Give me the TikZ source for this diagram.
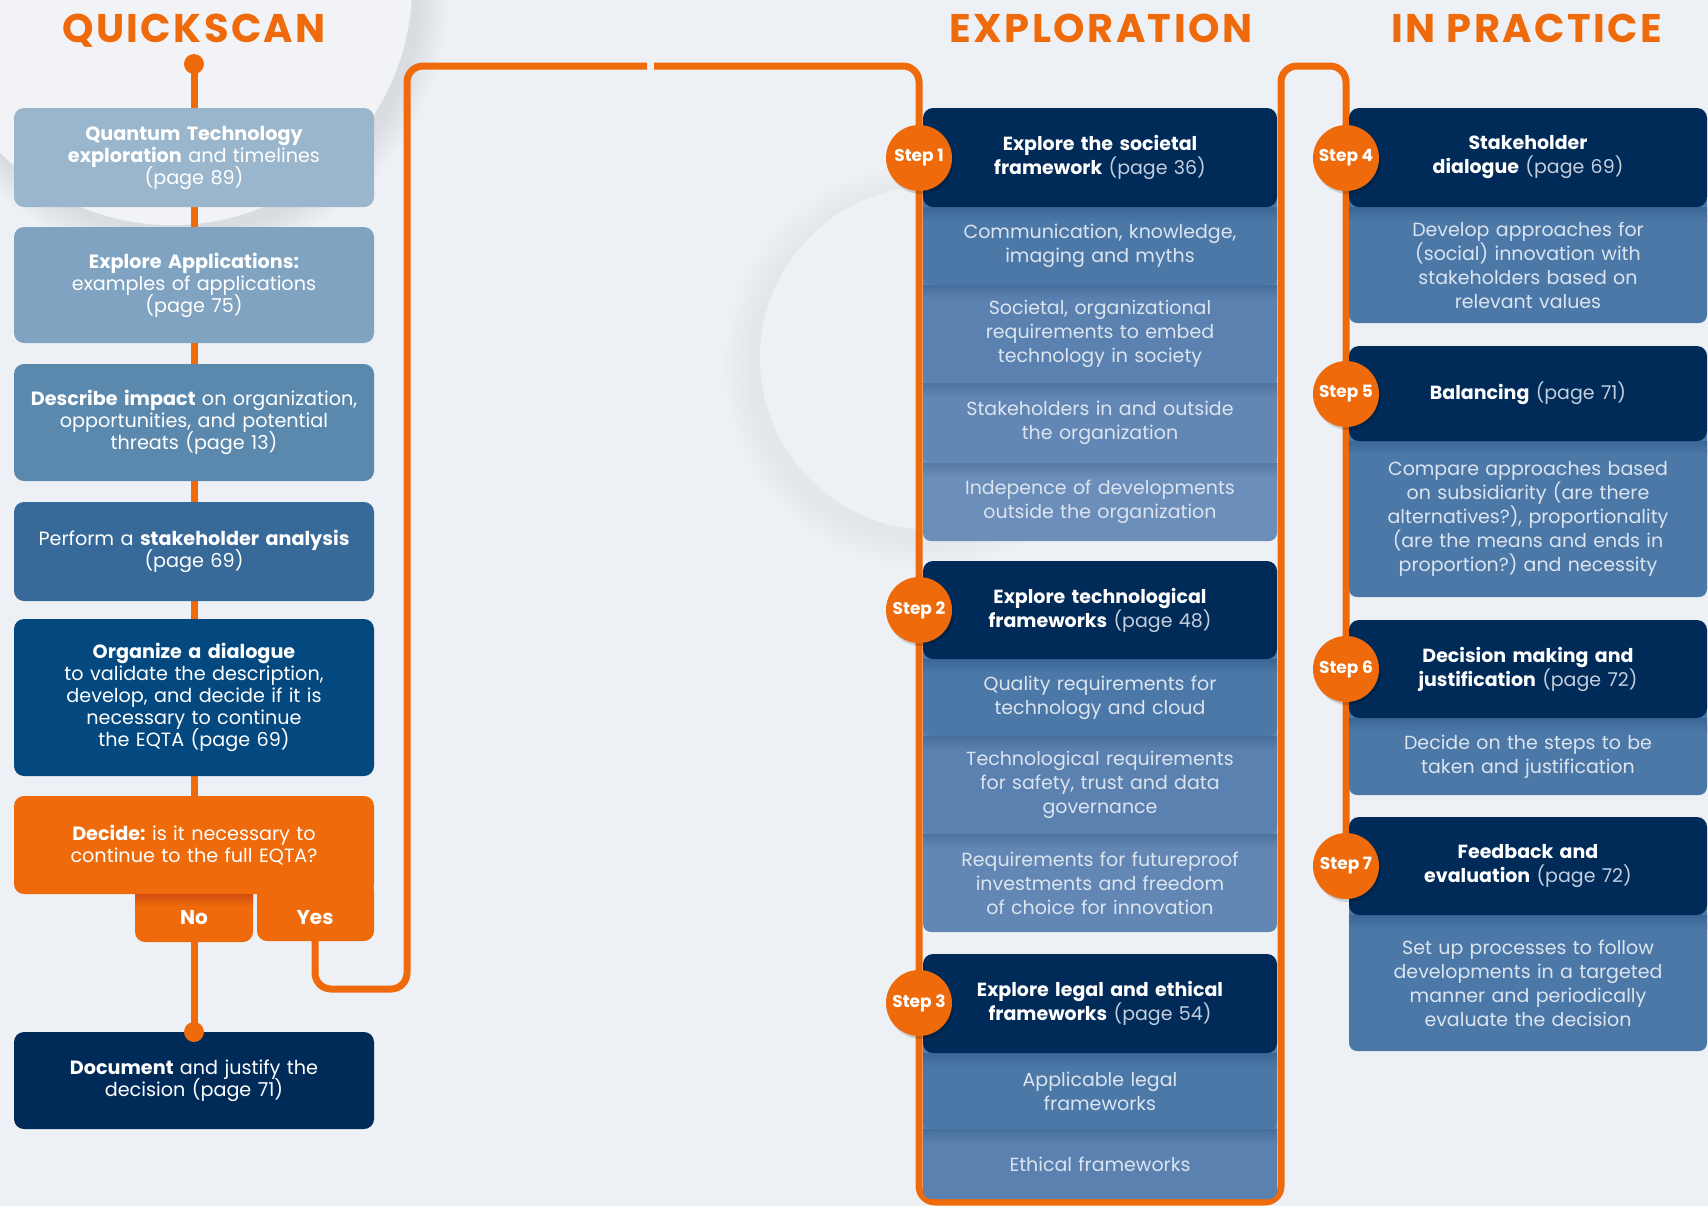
\documentclass[tikz,border=0pt]{standalone}
\usepackage{fontspec}
\setmainfont{Poppins}
\usetikzlibrary{calc}
\pgfdeclarelayer{bg}
\pgfdeclarelayer{lines}
\pgfsetlayers{bg,lines,main}
\frenchspacing
\newcommand{\tightlines}{\lineskiplimit=-30pt\relax\lineskip=0pt\relax}
\definecolor{bgc}{HTML}{EDF1F6}
\definecolor{bgl}{HTML}{F1F3F7}
\definecolor{org}{HTML}{EE6A0B}
\definecolor{orgd}{HTML}{CF4D12}
\definecolor{navy}{HTML}{002A58}
\definecolor{qa}{HTML}{9AB6CC}
\definecolor{qb}{HTML}{7FA3C1}
\definecolor{qc}{HTML}{5B88AD}
\definecolor{qd}{HTML}{376A98}
\definecolor{qe}{HTML}{03487F}
\definecolor{sa}{HTML}{4C78A8}
\definecolor{sb}{HTML}{5A81AF}
\definecolor{sc}{HTML}{6387B4}
\definecolor{sd}{HTML}{6C8EBA}
\definecolor{stext}{HTML}{DCE4EF}
\definecolor{ptext}{HTML}{C4CFDE}
\begin{document}
\begin{tikzpicture}[x=0.5pt, y=-0.5pt,
  oline/.style={draw=org, line width=3.5pt, rounded corners=8pt},
  qbox/.style={rectangle, rounded corners=5pt, minimum width=180pt, text width=174pt, align=center, text=white, font=\fontsize{9.6}{11}\selectfont, inner sep=0pt, execute at begin node=\tightlines},
  hbox/.style={rectangle, rounded corners=5pt, fill=navy, minimum width=177pt, text width=172pt, align=center, text=white, font=\fontsize{9.5}{12}\selectfont, inner sep=0pt, execute at begin node=\tightlines},
  sbox/.style={rectangle, rounded corners=4pt, minimum width=177pt, text width=172pt, align=center, text=stext, font=\fontsize{9.5}{12}\selectfont, inner sep=0pt, execute at begin node=\tightlines},
  pwide/.style={minimum width=179pt},
  stepc/.style={circle, fill=org, minimum size=33pt, inner sep=0pt, text=white, font=\bfseries\fontsize{8.5}{9}\selectfont,
     preaction={fill=black, opacity=0.15, transform canvas={shift={(1pt,-1.5pt)}}}},
  dotc/.style={circle, fill=org, minimum size=10pt, inner sep=0pt},
  ttl/.style={text=org, anchor=base, inner sep=0pt, font=\bfseries\fontsize{20}{20}\selectfont\addfontfeatures{LetterSpace=6}},
  tab/.style={text=white, inner sep=0pt, font=\bfseries\fontsize{10}{11}\selectfont}
]
\useasboundingbox (0,0) rectangle (1708,1206);
\begin{pgfonlayer}{bg}
  \fill[bgc] (0,0) rectangle (1708,1206);
  \begin{scope}
    \clip (0,0) rectangle (1708,1206);
    \foreach \d in {1,...,10} {\fill[black, opacity=0.006] (178,-8) circle[radius=120pt+\d*1.5pt];}
    \fill[bgl] (172,-15) circle[radius=120pt];
    \foreach \d in {1,...,10} {\fill[black, opacity=0.005] (925,366) circle[radius=86pt+\d*1.5pt];}
    \fill[bgc] (932,358) circle[radius=86pt];
  \end{scope}
\end{pgfonlayer}

% titles
\node[ttl] (tq) at (194,42) {QUICKSCAN};
\node[ttl] (te) at (1101,42) {EXPLORATION};
\node[ttl] (tp) at (1527,42) {IN PRACTICE};

% ---------- quickscan column
\node[qbox, fill=qa, minimum height=49.5pt] (q1) at (194,157.5) {\textbf{Quantum Technology}\\\textbf{exploration} and timelines\\(page 89)};
\node[qbox, fill=qb, minimum height=58pt] (q2) at (194,285) {\textbf{Explore Applications:}\\examples of applications\\(page 75)};
\node[qbox, fill=qc, minimum height=58.5pt] (q3) at (194,422.5) {\textbf{Describe impact} on organization,\\opportunities, and potential\\threats (page 13)};
\node[qbox, fill=qd, minimum height=49.5pt] (q4) at (194,551.5) {Perform a \textbf{stakeholder analysis}\\(page 69)};
\node[qbox, fill=qe, minimum height=78.5pt] (q5) at (194,697.5) {\textbf{Organize a dialogue}\\to validate the description,\\develop, and decide if it is\\necessary to continue\\the EQTA (page 69)};
\fill[org, rounded corners=5pt] (257,880) rectangle (374,941);
\fill[org, rounded corners=5pt] (135,880) rectangle (253,942);
\shade[top color=orgd, bottom color=org] (135,894) rectangle (253,906);
\node[qbox, fill=org, minimum height=49pt] (dec) at (194,845) {\textbf{Decide:} is it necessary to\\continue to the full EQTA?};
\node[tab] (no) at (194,918) {No};
\node[tab] (yes) at (315,918) {Yes};
\node[qbox, fill=navy, minimum height=48.5pt] (doc) at (194,1080.5) {\textbf{Document} and justify the\\decision (page 71)};
\node[dotc] (d1) at (194,64) {};
\node[dotc] (d2) at (194,1032) {};

% ---------- exploration column
% step 1 group
\fill[sd] (923,453) rectangle (1277,475);
\node[sbox, fill=sd, minimum height=39pt] (e14) at (1100,502) {Indepence of developments\\outside the organization};
\shade[top color=sd!78!navy, bottom color=sd] (923,463) rectangle (1277,477);
\fill[sc] (923,373) rectangle (1277,395);
\node[sbox, fill=sc, minimum height=40pt] (e13) at (1100,423) {Stakeholders in and outside\\the organization};
\shade[top color=sc!78!navy, bottom color=sc] (923,383) rectangle (1277,397);
\fill[sb] (923,275) rectangle (1277,297);
\node[sbox, fill=sb, minimum height=49pt] (e12) at (1100,334) {Societal, organizational\\requirements to embed\\technology in society};
\shade[top color=sb!78!navy, bottom color=sb] (923,285) rectangle (1277,299);
\fill[sa] (923,197) rectangle (1277,219);
\node[sbox, fill=sa, minimum height=39pt] (e11) at (1100,246) {Communication, knowledge,\\imaging and myths};
\shade[top color=sa!78!navy, bottom color=sa] (923,207) rectangle (1277,221);
\node[hbox, minimum height=49.5pt] (e1) at (1100,157.5) {\textbf{Explore the societal}\\\textbf{framework} {\color{ptext}(page 36)}};
% step 2 group
\fill[sc] (923,824) rectangle (1277,846);
\node[sbox, fill=sc, minimum height=49pt] (e23) at (1100,883) {Requirements for futureproof\\investments and freedom\\of choice for innovation};
\shade[top color=sc!78!navy, bottom color=sc] (923,834) rectangle (1277,848);
\fill[sb] (923,726) rectangle (1277,748);
\node[sbox, fill=sb, minimum height=49pt] (e22) at (1100,785) {Technological requirements\\for safety, trust and data\\governance};
\shade[top color=sb!78!navy, bottom color=sb] (923,736) rectangle (1277,750);
\fill[sa] (923,649) rectangle (1277,671);
\node[sbox, fill=sa, minimum height=38.5pt] (e21) at (1100,697.5) {Quality requirements for\\technology and cloud};
\shade[top color=sa!78!navy, bottom color=sa] (923,659) rectangle (1277,673);
\node[hbox, minimum height=49pt] (e2) at (1100,610) {\textbf{Explore technological}\\\textbf{frameworks} {\color{ptext}(page 48)}};
% step 3 group
\fill[sb] (923,1119) rectangle (1277,1141);
\node[sbox, fill=sb, minimum height=35pt] (e32) at (1100,1164) {Ethical frameworks};
\shade[top color=sb!78!navy, bottom color=sb] (923,1129) rectangle (1277,1143);
\fill[sa] (923,1043) rectangle (1277,1065);
\node[sbox, fill=sa, minimum height=38pt] (e31) at (1100,1091) {Applicable legal\\frameworks};
\shade[top color=sa!78!navy, bottom color=sa] (923,1053) rectangle (1277,1067);
\node[hbox, minimum height=49.5pt] (e3) at (1100,1003.5) {\textbf{Explore legal and ethical}\\\textbf{frameworks} {\color{ptext}(page 54)}};

% ---------- in practice column
\fill[sa] (1349,197) rectangle (1707,219);
\node[sbox, pwide, fill=sa, minimum height=58pt] (p41) at (1528,265) {Develop approaches for\\(social) innovation with\\stakeholders based on\\relevant values};
\shade[top color=sa!78!navy, bottom color=sa] (1349,207) rectangle (1707,221);
\node[hbox, pwide, minimum height=49.5pt] (p4) at (1528,157.5) {\textbf{Stakeholder}\\\textbf{dialogue} {\color{ptext}(page 69)}};

\fill[sa] (1349,431) rectangle (1707,453);
\node[sbox, pwide, fill=sa, minimum height=78pt] (p51) at (1528,519) {Compare approaches based\\on subsidiarity (are there\\alternatives?), proportionality\\(are the means and ends in\\proportion?) and necessity};
\shade[top color=sa!78!navy, bottom color=sa] (1349,441) rectangle (1707,455);
\node[hbox, pwide, minimum height=47.5pt] (p5) at (1528,393.5) {\textbf{Balancing} {\color{ptext}(page 71)}};

\fill[sa] (1349,708) rectangle (1707,730);
\node[sbox, pwide, fill=sa, minimum height=38.5pt] (p61) at (1528,756.5) {Decide on the steps to be\\taken and justification};
\shade[top color=sa!78!navy, bottom color=sa] (1349,718) rectangle (1707,732);
\node[hbox, pwide, minimum height=49pt] (p6) at (1528,669) {\textbf{Decision making and}\\\textbf{justification} {\color{ptext}(page 72)}};

\fill[sa] (1349,905) rectangle (1707,927);
\node[sbox, pwide, fill=sa, minimum height=68pt] (p71) at (1528,983) {Set up processes to follow\\developments in a targeted\\manner and periodically\\evaluate the decision};
\shade[top color=sa!78!navy, bottom color=sa] (1349,915) rectangle (1707,929);
\node[hbox, pwide, minimum height=49pt] (p7) at (1528,866) {\textbf{Feedback and}\\\textbf{evaluation} {\color{ptext}(page 72)}};

% step circles
\node[stepc] (s1) at (919,158) {Step 1};
\node[stepc] (s2) at (919,610) {Step 2};
\node[stepc] (s3) at (919,1003) {Step 3};
\node[stepc] (s4) at (1346,158) {Step 4};
\node[stepc] (s5) at (1346,394) {Step 5};
\node[stepc] (s6) at (1346,669) {Step 6};
\node[stepc] (s7) at (1346,866) {Step 7};

% ---------- connectors
\begin{pgfonlayer}{lines}
  \draw[oline] (d1.center) -- (q1.center);
  \draw[oline] (q1.center) -- (q2.center);
  \draw[oline] (q2.center) -- (q3.center);
  \draw[oline] (q3.center) -- (q4.center);
  \draw[oline] (q4.center) -- (q5.center);
  \draw[oline] (q5.center) -- (dec.center);
  \draw[oline] (no.center) -- (d2.center);
  \draw[oline] (yes.center) -- (315,989) -- (407,989) -- (407,66) -- (647,66);
  \draw[oline] (654,66) -- (919,66) -- (s1.center) -- (s2.center) -- (s3.center) -- (919,1202) -- (1281,1202) -- (1281,66) -- (1346,66) -- (s4.center) -- (s5.center) -- (s6.center) -- (s7.center);
\end{pgfonlayer}
\end{tikzpicture}
\end{document}
